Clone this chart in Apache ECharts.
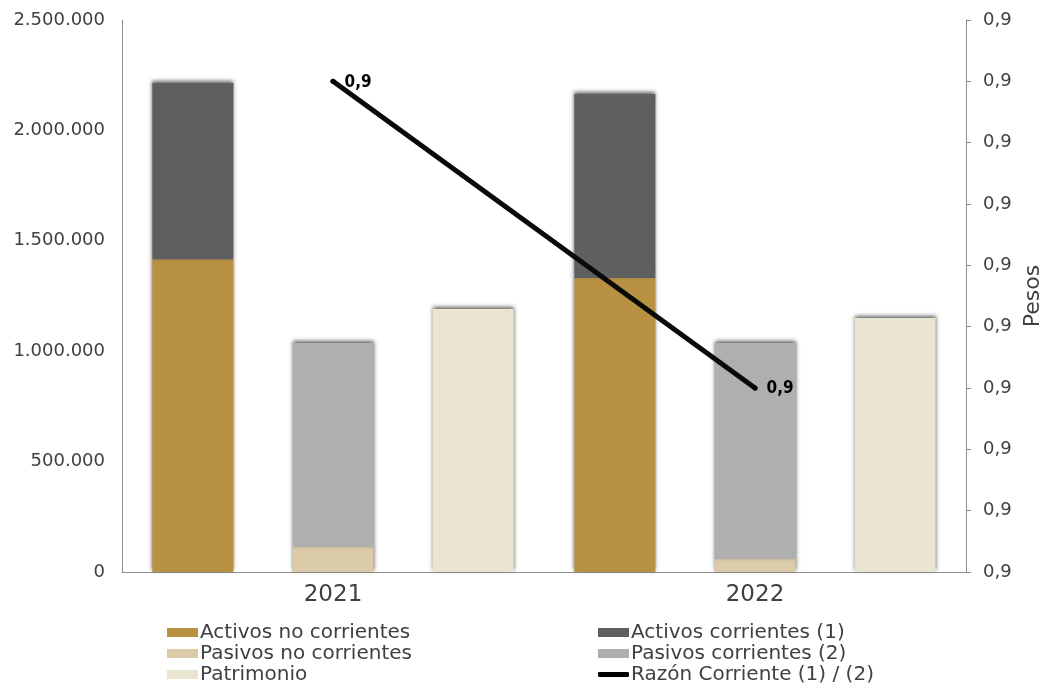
<!DOCTYPE html>
<html>
<head>
<meta charset="utf-8">
<script src="https://cdn.jsdelivr.net/npm/echarts@6/dist/echarts.min.js"></script>
<style>
  html, body { margin: 0; padding: 0; background: #fff; }
  #main { width: 1042px; height: 686px; }
</style>
</head>
<body>
<div id="main"></div>
<script>
var years = ['2021', '2022'];
var activosNoCorrientes = [1417000, 1331000];
var activosCorrientes = [798000, 834000];
var pasivosNoCorrientes = [113000, 59000];
var pasivosCorrientes = [924000, 978000];
var patrimonio = [1191000, 1150000];
var razonCorriente = [0.9, 0.875];

var fmtMiles = function (v) {
    return String(v).replace(/\B(?=(\d{3})+(?!\d))/g, '.');
};
var fmtRazon = function (v) {
    return Number(v).toFixed(1).replace('.', ',');
};

var txt = '#404040';
var axisGrey = '#8c8c8c';
var shadow = {
    shadowColor: 'rgba(60,60,60,0.8)',
    shadowBlur: 4,
    shadowOffsetY: -2
};

function barSerie(name, stack, data, color) {
    return {
        name: name,
        type: 'bar',
        stack: stack,
        data: data,
        barWidth: 81,
        barGap: '73%',
        itemStyle: Object.assign({ color: color }, shadow)
    };
}

function legendCol(left, top, h, icon, names) {
    return {
        orient: 'vertical', left: left, top: top, padding: 0, itemGap: 0,
        itemWidth: 31, itemHeight: h, icon: icon,
        textStyle: { color: txt, fontSize: 20, lineHeight: 21, padding: [0, 0, 0, -3] },
        data: names
    };
}

var chart = echarts.init(document.getElementById('main'));
chart.setOption({
    animation: false,
    backgroundColor: '#fff',
    textStyle: { fontFamily: 'DejaVu Sans' },
    grid: { left: 122, right: 76, top: 20, bottom: 114, outerBoundsMode: 'none' },
    legend: [
        legendCol(167, 622, 9, 'rect', ['Activos no corrientes', 'Pasivos no corrientes', 'Patrimonio']),
        legendCol(598, 622, 9, 'rect', ['Activos corrientes (1)', 'Pasivos corrientes (2)']),
        legendCol(598, 664, 5, 'roundRect', ['Razón Corriente (1) / (2)'])
    ],
    xAxis: {
        type: 'category',
        data: years,
        axisLine: { lineStyle: { color: axisGrey, width: 1 } },
        axisTick: { show: false },
        axisLabel: { color: txt, fontSize: 23, margin: 12 }
    },
    yAxis: [
        {
            type: 'value',
            min: 0, max: 2500000, interval: 500000,
            axisLine: { show: true, lineStyle: { color: axisGrey } },
            axisTick: { show: false },
            splitLine: { show: false },
            axisLabel: { color: txt, fontSize: 18, margin: 17, formatter: fmtMiles }
        },
        {
            type: 'value',
            min: 0.86, max: 0.905, interval: 0.005,
            position: 'right',
            name: 'Pesos',
            nameLocation: 'middle',
            nameRotate: 90,
            nameGap: 56,
            nameTextStyle: { color: txt, fontSize: 22 },
            axisLine: { show: true, lineStyle: { color: axisGrey } },
            axisTick: { show: true, length: 5, lineStyle: { color: axisGrey } },
            splitLine: { show: false },
            axisLabel: { color: txt, fontSize: 18, margin: 17, formatter: fmtRazon }
        }
    ],
    series: [
        barSerie('Activos no corrientes', 'activos', activosNoCorrientes, '#b89143'),
        barSerie('Activos corrientes (1)', 'activos', activosCorrientes, '#5f5f5f'),
        barSerie('Pasivos no corrientes', 'pasivos', pasivosNoCorrientes, '#dccba9'),
        barSerie('Pasivos corrientes (2)', 'pasivos', pasivosCorrientes, '#afafaf'),
        barSerie('Patrimonio', 'patrimonio', patrimonio, '#eae5d0'),
        {
            name: 'Razón Corriente (1) / (2)',
            type: 'line',
            yAxisIndex: 1,
            data: razonCorriente,
            symbol: 'circle',
            symbolSize: 5,
            itemStyle: { color: '#000' },
            lineStyle: { color: '#0a0a0a', width: 5, cap: 'round' },
            z: 5,
            label: {
                show: true,
                position: 'right',
                offset: [4, 1],
                color: '#000',
                fontFamily: '"Liberation Sans Narrow", "DejaVu Sans Condensed", "Liberation Sans", sans-serif',
                fontWeight: 'bold',
                fontSize: 17,
                formatter: function (p) { return fmtRazon(p.value); }
            }
        }
    ]
});
</script>
</body>
</html>
